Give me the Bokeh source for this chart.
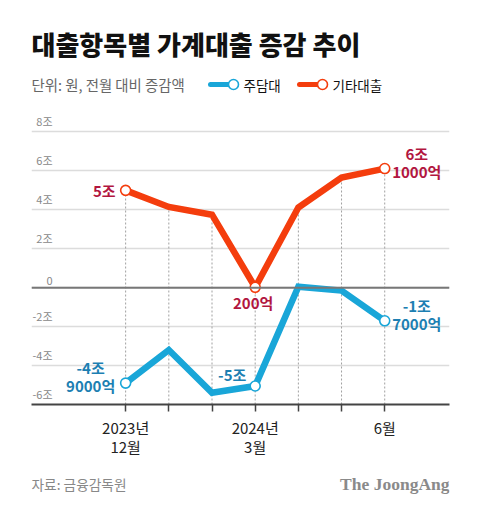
import numpy as np
from bokeh.plotting import figure
from bokeh.layouts import column
from bokeh.models import FixedTicker, Span, Range1d
from bokeh.core.properties import value
from bokeh.embed import file_html
from bokeh.resources import INLINE

# ---------------- data ----------------
months = ["2023-12", "2024-01", "2024-02", "2024-03", "2024-04", "2024-05", "2024-06"]
x_tick_labels = ["2023년\n12월", "", "", "2024년\n3월", "", "", "6월"]
mortgage = [-4.9, -3.2, -5.4, -5.05, 0.05, -0.15, -1.7]      # 주담대 (조 원)
other_loans = [5.0, 4.15, 3.75, 0.02, 4.12, 5.66, 6.12]      # 기타대출 (조 원)
y_ticks = [-6, -4, -2, 0, 2, 4, 6, 8]
y_tick_labels = ["-6조", "-4조", "-2조", "0", "2조", "4조", "6조", "8조"]
marker_idx = [0, 3, 6]
other_notes = ["5조", "200억", "6조\n1000억"]
mortgage_notes = ["-4조\n9000억", "-5조", "-1조\n7000억"]
series_names = ["주담대", "기타대출"]
title_text = "대출항목별 가계대출 증감 추이"
unit_text = "단위: 원, 전월 대비 증감액"
source_text = "자료: 금융감독원"
brand_text = "The JoongAng"

FONT = "Noto Sans CJK KR"
TITLE_FONT = "'Noto Sans CJK KR Black', 'Noto Sans CJK KR'"
BLUE = "#19a6d8"
RED = "#f43d0d"
BLUE_TXT = "#1d7fb2"
RED_TXT = "#b2163f"

W = 480
LEFT, RIGHT = 31, 449
HEAD_H, CHART_H, FOOT_H = 100, 360, 53


def blank(height):
    f = figure(width=W, height=height, output_backend="svg", toolbar_location=None,
               x_range=Range1d(LEFT, RIGHT), y_range=Range1d(height, 0),
               x_axis_location=None, y_axis_location=None,
               min_border_left=LEFT, min_border_right=W - RIGHT,
               min_border_top=0, min_border_bottom=0)
    f.title.visible = False
    f.outline_line_color = None
    f.xgrid.visible = False
    f.ygrid.visible = False
    f.background_fill_color = "white"
    f.border_fill_color = "white"
    return f


# ---------------- header ----------------
head = blank(HEAD_H)
head.text(x=[31], y=[43], text=[title_text], text_font=value(TITLE_FONT),
          text_font_size="26px", text_font_style="bold", text_color="#111111",
          text_baseline="middle")
head.text(x=[31], y=[84], text=[unit_text], text_font=value(FONT), text_font_size="14.4px",
          text_color="#666666", text_baseline="middle")
leg_x = [210, 299]
leg_colors = [BLUE, RED]
for x0, c, name in zip(leg_x, leg_colors, series_names):
    head.segment(x0=[x0], y0=[84], x1=[x0 + 20], y1=[84], line_color=c, line_width=5,
                 line_cap="round")
    head.scatter(x=[x0 + 23], y=[84], size=10, fill_color="white", line_color=c,
                 line_width=1.6)
    head.text(x=[x0 + 33], y=[84], text=[name], text_font=value(FONT),
              text_font_size="13.5px", text_color="#111111", text_baseline="middle")

# ---------------- chart ----------------
XS, XE = -2.18, 7.5
YS, YE = -6, 9
xi = np.arange(len(months))

p = figure(width=W, height=CHART_H, output_backend="svg", toolbar_location=None,
           x_range=Range1d(XS, XE), y_range=Range1d(YS, YE),
           min_border_left=LEFT, min_border_right=W - RIGHT, min_border_top=12,
           min_border_bottom=56)
p.title.visible = False
p.outline_line_color = None
p.background_fill_color = "white"
p.border_fill_color = "white"

p.yaxis.visible = False
p.xgrid.visible = False
p.ygrid.ticker = FixedTicker(ticks=y_ticks)
p.ygrid.grid_line_color = "#dcdcdc"
p.ygrid.grid_line_width = 1.5

xa = p.xaxis[0]
xa.ticker = FixedTicker(ticks=list(xi))
xa.major_label_overrides = {int(i): t for i, t in zip(xi, x_tick_labels)}
xa.minor_tick_line_color = None
xa.axis_line_color = "#444444"
xa.axis_line_width = 2
xa.major_tick_line_color = "#444444"
xa.major_tick_line_width = 1.5
xa.major_tick_in = 0
xa.major_tick_out = 7
xa.major_label_standoff = 5
xa.major_label_text_font = FONT
xa.major_label_text_font_size = "15px"
xa.major_label_text_color = "#222222"
xa.major_label_text_line_height = 0.95

p.add_layout(Span(location=0, dimension="width", line_color="#777777", line_width=2))

p.text(x=[XS] * len(y_ticks), y=y_ticks, text=y_tick_labels, x_offset=21, y_offset=-3,
       text_align="right", text_baseline="bottom", text_font=value(FONT),
       text_font_size="11px", text_color="#888888")

top = np.maximum(np.array(mortgage), np.array(other_loans))
p.segment(x0=xi, y0=[YS] * len(xi), x1=xi, y1=top, line_color="#a0a0a0",
          line_width=1, line_dash="2 2")

p.line(xi, other_loans, line_color=RED, line_width=6.5, line_join="miter")
p.line(xi, mortgage, line_color=BLUE, line_width=6.5, line_join="miter")

mx = [xi[i] for i in marker_idx]
p.scatter(mx, [other_loans[i] for i in marker_idx], size=10, fill_color="white",
          line_color=RED, line_width=1.6)
p.scatter(mx, [mortgage[i] for i in marker_idx], size=10, fill_color="white",
          line_color=BLUE, line_width=1.6)

note_style = dict(text_font=value(FONT), text_font_size="15px", text_font_style="bold",
                  text_line_height=0.85)
ro = [other_loans[i] for i in marker_idx]
p.text(x=[mx[0]], y=[ro[0]], text=[other_notes[0]], x_offset=-10, y_offset=0,
       text_align="right", text_baseline="middle", text_color=RED_TXT, **note_style)
p.text(x=[mx[1]], y=[ro[1]], text=[other_notes[1]], x_offset=-2, y_offset=15,
       text_align="center", text_baseline="middle", text_color=RED_TXT, **note_style)
p.text(x=[mx[2]], y=[ro[2]], text=[other_notes[2]], x_offset=32, y_offset=-6,
       text_align="center", text_baseline="middle", text_color=RED_TXT, **note_style)
bo = [mortgage[i] for i in marker_idx]
p.text(x=[mx[0]], y=[bo[0]], text=[mortgage_notes[0]], x_offset=-35, y_offset=-7,
       text_align="center", text_baseline="middle", text_color=BLUE_TXT, **note_style)
p.text(x=[mx[1]], y=[bo[1]], text=[mortgage_notes[1]], x_offset=-23, y_offset=-12,
       text_align="center", text_baseline="middle", text_color=BLUE_TXT, **note_style)
p.text(x=[mx[2]], y=[bo[2]], text=[mortgage_notes[2]], x_offset=32, y_offset=-6,
       text_align="center", text_baseline="middle", text_color=BLUE_TXT, **note_style)

# ---------------- footer ----------------
foot = blank(FOOT_H)
foot.text(x=[31], y=[23], text=[source_text], text_font=value(FONT),
          text_font_size="13.7px", text_color="#888888", text_baseline="middle")
foot.text(x=[449], y=[23], text=[brand_text], text_font=value("Liberation Serif"),
          text_font_size="17.5px", text_font_style="bold", text_color="#8a8a8a",
          text_baseline="middle", text_align="right")

layout = column(head, p, foot, spacing=0)
open("out.html", "w").write(file_html(layout, INLINE))
